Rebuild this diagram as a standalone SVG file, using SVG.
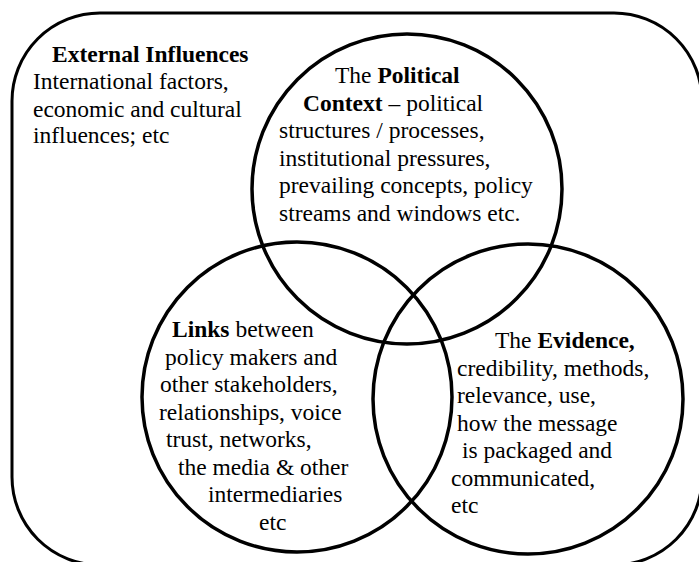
<svg xmlns="http://www.w3.org/2000/svg" width="699" height="562" viewBox="0 0 699 562">
  <style>
    .frame { fill: none; stroke: #000; stroke-width: 3; }
    .ring { fill: none; stroke: #000; stroke-width: 3.5; }
    text { font-family: "Liberation Serif", "Times New Roman", serif; font-size: 23.5px; fill: #000; }
    .b { font-weight: bold; }
  </style>
  <rect width="699" height="562" fill="#fff"/>

  <!-- outer frame: external influences -->
  <g id="external">
    <rect class="frame" x="12" y="13" width="690" height="552" rx="88" ry="88"/>
    <text x="52" y="62" class="b">External Influences</text>
    <text x="33" y="89">International factors,</text>
    <text x="33" y="116.5">economic and cultural</text>
    <text x="33" y="143">influences; etc</text>
  </g>

  <!-- political context circle -->
  <g id="political">
    <circle class="ring" cx="407" cy="189" r="155"/>
    <text x="335" y="83">The <tspan class="b">Political</tspan></text>
    <text x="303" y="110.5"><tspan class="b">Context</tspan> – political</text>
    <text x="279" y="138">structures / processes,</text>
    <text x="279" y="165.5">institutional pressures,</text>
    <text x="279" y="193">prevailing concepts, policy</text>
    <text x="279" y="220.5">streams and windows etc.</text>
  </g>

  <!-- links circle -->
  <g id="links">
    <circle class="ring" cx="297" cy="397" r="155"/>
    <text x="172" y="337"><tspan class="b">Links</tspan> between</text>
    <text x="165" y="364.5">policy makers and</text>
    <text x="160" y="392">other stakeholders,</text>
    <text x="159" y="419.5">relationships, voice</text>
    <text x="166" y="447">trust, networks,</text>
    <text x="178" y="474.5">the media &amp; other</text>
    <text x="208" y="502">intermediaries</text>
    <text x="259" y="529.5">etc</text>
  </g>

  <!-- evidence circle -->
  <g id="evidence">
    <circle class="ring" cx="528" cy="399" r="155"/>
    <text x="495" y="348">The <tspan class="b">Evidence,</tspan></text>
    <text x="457" y="375.5">credibility, methods,</text>
    <text x="457" y="403">relevance, use,</text>
    <text x="457" y="430.5">how the message</text>
    <text x="462" y="458">is packaged and</text>
    <text x="451" y="485.5">communicated,</text>
    <text x="451" y="513">etc</text>
  </g>
</svg>
